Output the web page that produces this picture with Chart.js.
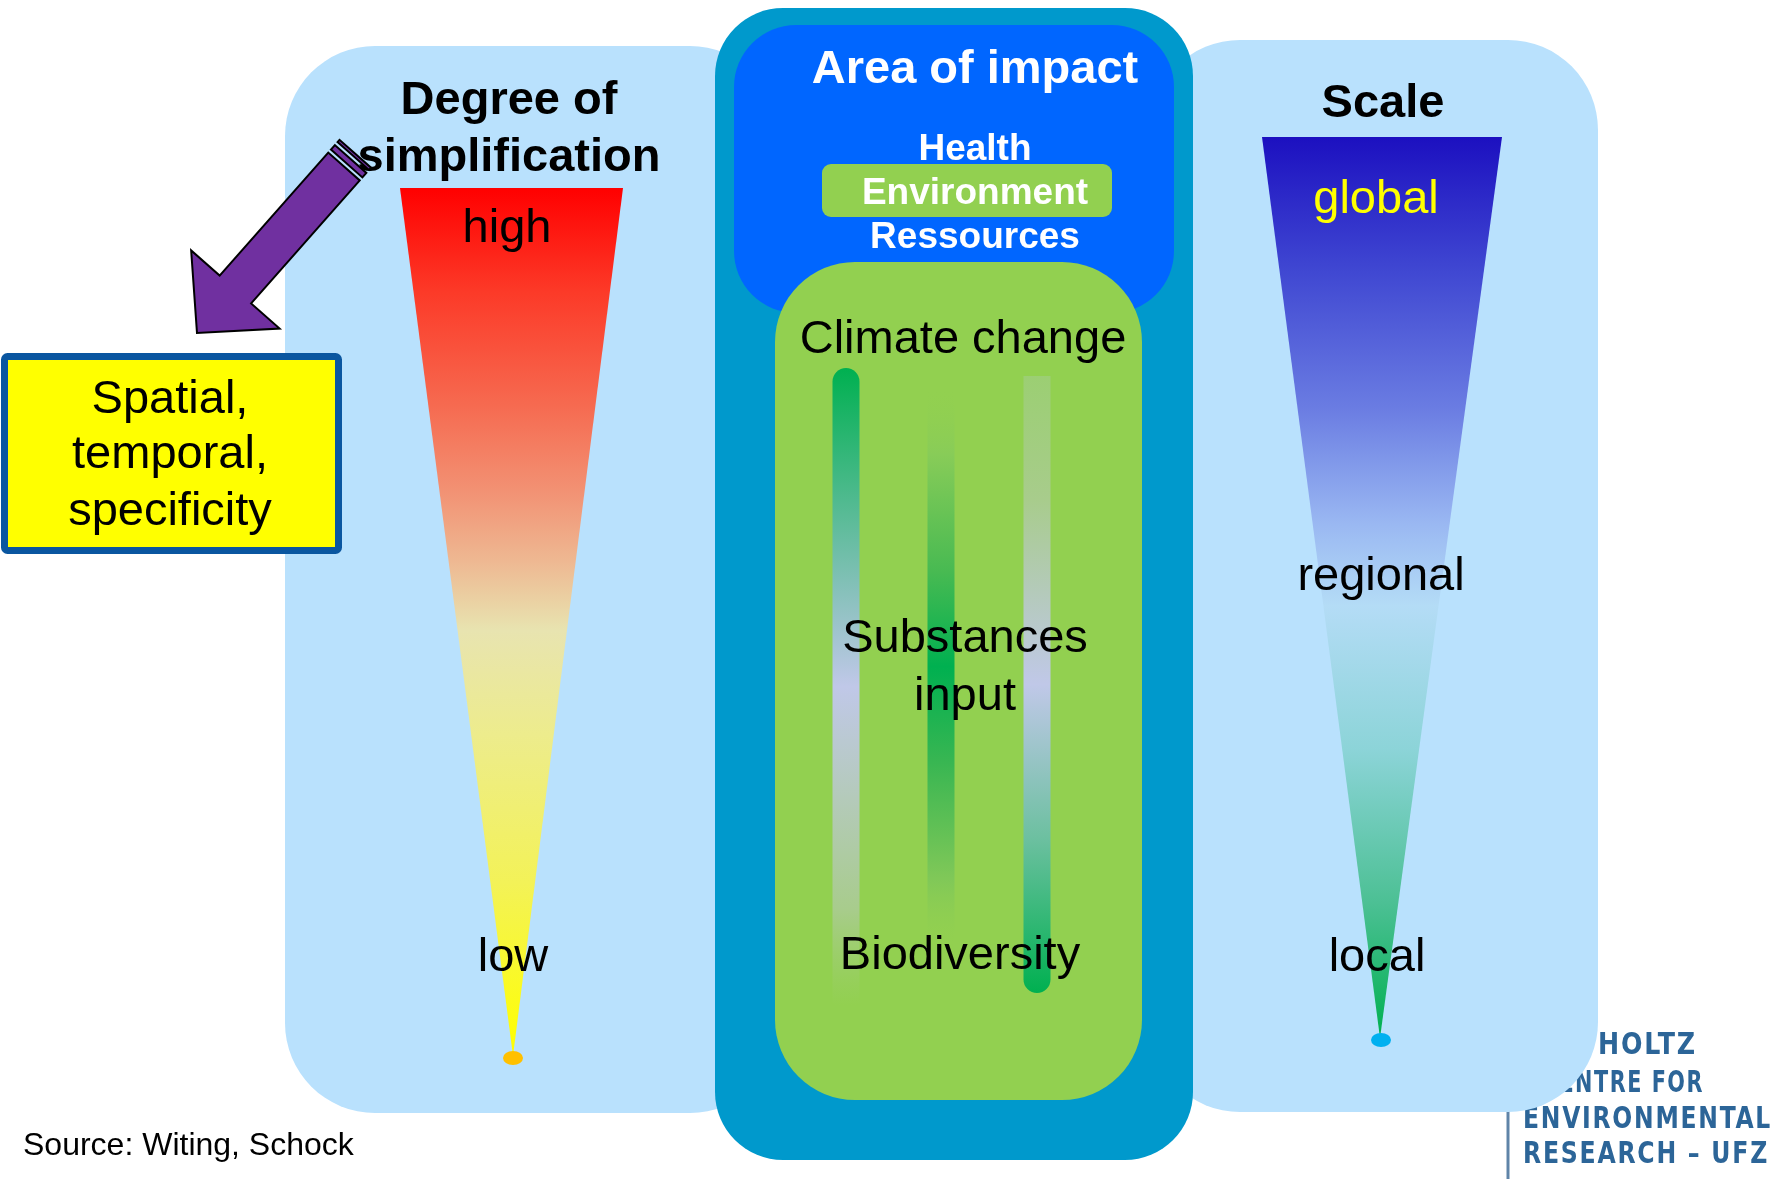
<!DOCTYPE html>
<html>
<head>
<meta charset="utf-8">
<script src="https://cdn.jsdelivr.net/npm/chart.js@4"></script>
<style>
  body { margin: 0; background: #ffffff; overflow: hidden; }
  #wrap { width: 1787px; height: 1179px; }
</style>
</head>
<body>
<div id="wrap"><canvas id="diagram"></canvas></div>
<script>
// texts of the diagram
const simplificationTitle = ['Degree of', 'simplification'];
const simplificationLevels = ['high', 'low'];
const impactTitle = 'Area of impact';
const impactAreas = ['Health', 'Environment', 'Ressources'];
const impactDrivers = ['Climate change', 'Substances', 'input', 'Biodiversity'];
const scaleTitle = 'Scale';
const scaleLevels = ['global', 'regional', 'local'];
const noteLines = ['Spatial,', 'temporal,', 'specificity'];
const sourceNote = 'Source: Witing, Schock';
// only the part of the logo that is not hidden by the right panel
const logoLines = ['HOLTZ', 'CENTRE FOR', 'ENVIRONMENTAL', 'RESEARCH \u2013 UFZ'];

const FONT = '"Liberation Sans", Arial, sans-serif';

const diagramPlugin = {
    id: 'diagram',
    beforeDatasetsDraw(chart) {
        const ctx = chart.ctx;
        const sx = chart.scales.x, sy = chart.scales.y;
        const px = v => sx.getPixelForValue(v);
        const py = v => sy.getPixelForValue(v);

        function roundBox(x0, y0, x1, y1, r, fill) {
            ctx.beginPath();
            ctx.roundRect(px(x0), py(y0), px(x1) - px(x0), py(y1) - py(y0), r);
            ctx.fillStyle = fill;
            ctx.fill();
        }

        function text(str, x, y, size, color, bold, align) {
            ctx.font = (bold ? 'bold ' : '') + size + 'px ' + FONT;
            ctx.fillStyle = color;
            ctx.textAlign = align || 'center';
            ctx.textBaseline = 'alphabetic';
            ctx.fillText(str, px(x), py(y));
        }

        function ellipse(x, y, rx, ry, fill) {
            ctx.beginPath();
            ctx.ellipse(px(x), py(y), rx, ry, 0, 0, Math.PI * 2);
            ctx.fillStyle = fill;
            ctx.fill();
        }

        function cone(xl, xr, top, xa, bottom, stops) {
            const g = ctx.createLinearGradient(0, py(top), 0, py(bottom));
            stops.forEach(s => g.addColorStop(s[0], s[1]));
            ctx.beginPath();
            ctx.moveTo(px(xl), py(top));
            ctx.lineTo(px(xr), py(top));
            ctx.lineTo(px(xa), py(bottom));
            ctx.closePath();
            ctx.fillStyle = g;
            ctx.fill();
        }

        function bar(xc, top, bottom, w, stops, radii) {
            const g = ctx.createLinearGradient(0, py(top), 0, py(bottom));
            stops.forEach(s => g.addColorStop(s[0], s[1]));
            ctx.beginPath();
            ctx.roundRect(px(xc) - w / 2, py(top), w, py(bottom) - py(top), radii);
            ctx.fillStyle = g;
            ctx.fill();
        }

        // logo line squeezed so that the visible part has the wanted width
        function logoLine(str, visible, x, y, width, align) {
            ctx.font = 'bold 30px "DejaVu Sans Condensed", "DejaVu Sans", sans-serif';
            ctx.letterSpacing = '2px';
            const f = width / ctx.measureText(visible).width;
            ctx.save();
            ctx.translate(px(x), py(y));
            ctx.scale(f, 1);
            ctx.textAlign = align;
            ctx.textBaseline = 'alphabetic';
            ctx.fillStyle = '#2c6598';
            ctx.fillText(str, 0, 0);
            ctx.restore();
            ctx.letterSpacing = '0px';
        }

        ctx.save();

        // logo, partly hidden by the right panel
        logoLine(logoLines[0], logoLines[0], 1697, 1054, 99, 'right');
        logoLine(logoLines[1], 'TRE FOR', 1704, 1092, 110, 'right');
        logoLine(logoLines[2], logoLines[2], 1523, 1128, 249, 'left');
        logoLine(logoLines[3], logoLines[3], 1523, 1163, 246, 'left');
        ctx.strokeStyle = '#5f84a8';
        ctx.lineWidth = 3;
        ctx.beginPath();
        ctx.moveTo(px(1508), py(1100));
        ctx.lineTo(px(1508), py(1179));
        ctx.stroke();

        // side panels
        roundBox(285, 46, 780, 1113, 90, '#b9e1fd');
        roundBox(1150, 40, 1598, 1112, 90, '#b9e1fd');

        // centre column
        roundBox(715, 8, 1193, 1160, 68, '#0099cc');
        roundBox(734, 25, 1174, 313, 62, '#0066ff');
        roundBox(775, 262, 1142, 1100, 80, '#92d050');
        roundBox(822, 164, 1112, 217, 9, '#92d050');

        text(impactTitle, 975, 83, 47, '#ffffff', true);
        text(impactAreas[0], 975, 160, 37, '#ffffff', true);
        text(impactAreas[1], 975, 204, 37, '#ffffff', true);
        text(impactAreas[2], 975, 248, 37, '#ffffff', true);

        // gradient bars inside the green box
        bar(846, 368, 1005, 27, [[0, '#00b050'], [0.5, '#c0c8e8'], [0.85, '#a8cc8c'], [1, 'rgba(146,208,80,0.6)']], [14, 14, 0, 0]);
        bar(941, 387, 946, 27, [[0, 'rgba(146,208,80,0)'], [0.12, '#88cc58'], [0.33, '#48ba52'], [0.5, '#00b050'],
            [0.67, '#38b652'], [0.88, '#80c858'], [1, 'rgba(146,208,80,0)']], 0);
        bar(1037, 376, 993, 27, [[0, 'rgba(160,206,130,0.7)'], [0.2, '#a8cc8c'], [0.5, '#c0c8e8'], [0.75, '#6cc0a0'], [1, '#00b050']], [0, 0, 14, 14]);

        text(impactDrivers[0], 963, 353, 47, '#000000', false);
        text(impactDrivers[1], 965, 652, 47, '#000000', false);
        text(impactDrivers[2], 965, 710, 47, '#000000', false);
        text(impactDrivers[3], 960, 969, 47, '#000000', false);

        // degree of simplification cone
        cone(400, 623, 188, 513, 1056, [[0, '#ff0000'], [0.12, '#fc3a28'], [0.25, '#f66a50'], [0.35, '#f29274'],
            [0.43, '#eeb892'], [0.51, '#e8e4b0'], [0.63, '#edec8c'], [0.8, '#f3f258'], [1, '#ffff00']]);
        ellipse(513, 1058, 10, 7, '#ffc000');
        text(simplificationTitle[0], 509, 114, 47, '#000000', true);
        text(simplificationTitle[1], 509, 171, 47, '#000000', true);
        text(simplificationLevels[0], 507, 242, 47, '#000000', false);
        text(simplificationLevels[1], 513, 971, 47, '#000000', false);

        // scale cone
        cone(1262, 1502, 137, 1380, 1038, [[0, '#1c10c0'], [0.15, '#4048d2'], [0.3, '#6a7ce2'], [0.43, '#9ab8f2'],
            [0.52, '#b4dcf6'], [0.68, '#8cd4d8'], [0.85, '#4cc094'], [1, '#00b050']]);
        ellipse(1381, 1040, 10, 7, '#00b0f0');
        text(scaleTitle, 1383, 117, 47, '#000000', true);
        text(scaleLevels[0], 1376, 213, 47, '#ffff00', false);
        text(scaleLevels[1], 1381, 590, 47, '#000000', false);
        text(scaleLevels[2], 1377, 971, 47, '#000000', false);

        // note box
        ctx.beginPath();
        ctx.roundRect(px(4.5), py(356.5), px(338.5) - px(4.5), py(550.5) - py(356.5), 3);
        ctx.fillStyle = '#ffff00';
        ctx.fill();
        ctx.strokeStyle = '#0a56a0';
        ctx.lineWidth = 7;
        ctx.stroke();
        text(noteLines[0], 170, 413, 47, '#000000', false);
        text(noteLines[1], 170, 468, 47, '#000000', false);
        text(noteLines[2], 170, 525, 47, '#000000', false);

        // purple arrow pointing to the note
        const T = [344, 166.5], P = [197, 333];
        const len = Math.hypot(P[0] - T[0], P[1] - T[1]);
        const u = [(P[0] - T[0]) / len, (P[1] - T[1]) / len];
        const n = [-u[1], u[0]];
        const pt = (b, a, s) => [px(b[0] + u[0] * a + n[0] * s), py(b[1] + u[1] * a + n[1] * s)];
        const headStart = len - 58;
        function poly(pts) {
            ctx.beginPath();
            pts.forEach((p, i) => i ? ctx.lineTo(p[0], p[1]) : ctx.moveTo(p[0], p[1]));
            ctx.closePath();
            ctx.fillStyle = '#7030a0';
            ctx.fill();
            ctx.strokeStyle = '#000000';
            ctx.lineWidth = 2;
            ctx.stroke();
        }
        poly([pt(T, 0, 21), pt(T, headStart, 21), pt(T, headStart, 59), pt(T, len, 0),
              pt(T, headStart, -59), pt(T, headStart, -21), pt(T, 0, -21)]);
        poly([pt(T, -4, 21), pt(T, -4, -21), pt(T, -10, -21), pt(T, -10, 21)]);
        poly([pt(T, -14, 21), pt(T, -14, -21), pt(T, -17, -21), pt(T, -17, 21)]);

        text(sourceNote, 23, 1155, 32, '#000000', false, 'left');

        ctx.restore();
    }
};

new Chart(document.getElementById('diagram'), {
    type: 'scatter',
    data: { datasets: [] },
    options: {
        responsive: true,
        maintainAspectRatio: false,
        animation: false,
        events: [],
        layout: { padding: 0 },
        plugins: { legend: { display: false }, tooltip: { enabled: false } },
        scales: {
            x: { type: 'linear', min: 0, max: 1787, display: false },
            y: { type: 'linear', min: 0, max: 1179, reverse: true, display: false }
        }
    },
    plugins: [diagramPlugin]
});
</script>
</body>
</html>
